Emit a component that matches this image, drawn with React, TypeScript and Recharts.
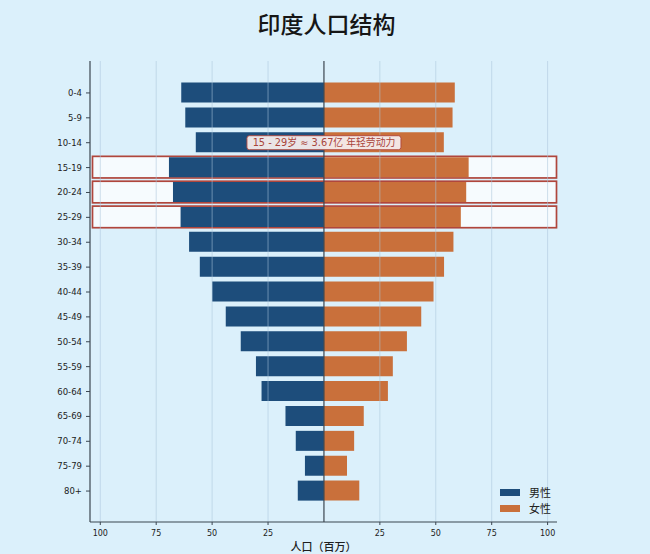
import { Bar, BarChart, XAxis, YAxis, ReferenceLine, ReferenceDot } from 'recharts';

const ageGroups = [
  '0-4', '5-9', '10-14', '15-19', '20-24', '25-29', '30-34', '35-39', '40-44',
  '45-49', '50-54', '55-59', '60-64', '65-69', '70-74', '75-79', '80+',
];
// population in millions
const maleMillions = [63.8, 62.0, 57.3, 69.3, 67.5, 64.1, 60.3, 55.5, 50.0, 43.9, 37.2, 30.4, 27.9, 17.2, 12.6, 8.5, 11.7];
const femaleMillions = [58.5, 57.5, 53.6, 64.7, 63.6, 61.2, 57.9, 53.7, 49.0, 43.5, 37.1, 30.8, 28.6, 17.8, 13.5, 10.3, 15.8];
const xTicks = [-100, -75, -50, -25, 25, 50, 75, 100];
const highlightedGroups = ['15-19', '20-24', '25-29'];
const annotationGroup = '10-14';
const annotationText = '15 - 29岁 ≈ 3.67亿 年轻劳动力';
const seriesNames = ['男性', '女性'];

const MALE = '#1d4d7b';
const FEMALE = '#c9703b';
const INK = '#3b4650';
const FONT = '"DejaVu Sans", "Noto Sans CJK SC", sans-serif';
const CJK = '"Noto Sans CJK SC", sans-serif';

const data = ageGroups.map((age, i) => ({
  age,
  male: -maleMillions[i],
  female: femaleMillions[i],
}));

const renderHighlight = (props: any) => {
  const { x, y, width, height, index } = props;
  if (!highlightedGroups.includes(ageGroups[index])) return <g key={`hl-${index}`} />;
  return (
    <rect
      key={`hl-${index}`}
      x={x + 2.5}
      y={y - 0.8}
      width={width - 3}
      height={height + 1.6}
      fill="rgba(255,255,255,0.75)"
      stroke="#b0463c"
      strokeWidth={1.7}
    />
  );
};

const renderAnnotation = (props: any) => {
  const { cx, cy } = props;
  const w = 154;
  const h = 14;
  return (
    <g>
      <rect
        x={cx - w / 2}
        y={cy - h / 2}
        width={w}
        height={h}
        rx={2.5}
        fill="#f6ecec"
        fillOpacity={0.95}
        stroke="#b0463c"
        strokeWidth={0.9}
      />
      <text
        x={cx}
        y={cy + 0.5}
        textAnchor="middle"
        dominantBaseline="middle"
        fontSize={9.8}
        fill="#a9443b"
        fontFamily={FONT}
        style={{ whiteSpace: 'pre' }}
      >
        {annotationText}
      </text>
    </g>
  );
};

export default function App() {
  const colors = [MALE, FEMALE];
  return (
    <div
      style={{
        position: 'absolute',
        left: 0,
        top: 0,
        width: 650,
        height: 554,
        background: '#dbf0fb',
        fontFamily: FONT,
        overflow: 'hidden',
      }}
    >
      <div
        style={{
          position: 'absolute',
          top: 8,
          left: 0,
          width: 653,
          textAlign: 'center',
          fontSize: 23,
          lineHeight: '30px',
          fontWeight: 500,
          color: '#161616',
          fontFamily: CJK,
        }}
      >
        印度人口结构
      </div>

      <BarChart
        width={650}
        height={554}
        data={data}
        layout="vertical"
        stackOffset="sign"
        margin={{ top: 61, right: 93, left: 0, bottom: 0 }}
      >
        <XAxis
          type="number"
          domain={[-104.6, 104.2]}
          ticks={xTicks}
          tickFormatter={(v: number) => String(Math.abs(v))}
          height={32}
          tickSize={3}
          tickMargin={5}
          tick={{ fontSize: 8, fill: '#222', fontFamily: FONT }}
          axisLine={{ stroke: INK, strokeWidth: 1.2 }}
          tickLine={{ stroke: INK }}
          label={{
            value: '人口（百万）',
            position: 'insideBottom',
            offset: 3,
            fontSize: 11,
            fontWeight: 500,
            fill: '#1e1e1e',
            fontFamily: CJK,
          }}
        />
        <YAxis
          type="category"
          dataKey="age"
          width={90}
          padding={{ top: 19.5, bottom: 18.5 }}
          tickSize={4}
          tickMargin={4}
          tick={{ fontSize: 8.5, fill: '#222', fontFamily: FONT }}
          axisLine={{ stroke: INK, strokeWidth: 1.2 }}
          tickLine={{ stroke: INK }}
          interval={0}
        />
        <Bar
          dataKey="male"
          name={seriesNames[0]}
          stackId="pop"
          fill={MALE}
          barSize={20}
          background={renderHighlight}
          isAnimationActive={false}
        />
        <Bar
          dataKey="female"
          name={seriesNames[1]}
          stackId="pop"
          fill={FEMALE}
          barSize={20}
          isAnimationActive={false}
        />
        {xTicks.map((t) => (
          <ReferenceLine key={t} x={t} stroke="#a9c4da" strokeOpacity={0.55} strokeWidth={1} />
        ))}
        <ReferenceLine x={0} stroke={INK} strokeWidth={1.2} />
        <ReferenceDot x={0} y={annotationGroup} r={0} shape={renderAnnotation} />
      </BarChart>

      <div style={{ position: 'absolute', left: 500, top: 484 }}>
        {seriesNames.map((name, i) => (
          <div key={name} style={{ display: 'flex', alignItems: 'center', height: 16 }}>
            <span style={{ width: 20, height: 7, background: colors[i], display: 'inline-block' }} />
            <span style={{ marginLeft: 9, fontSize: 11, color: '#222', fontFamily: CJK }}>
              {name}
            </span>
          </div>
        ))}
      </div>
    </div>
  );
}
